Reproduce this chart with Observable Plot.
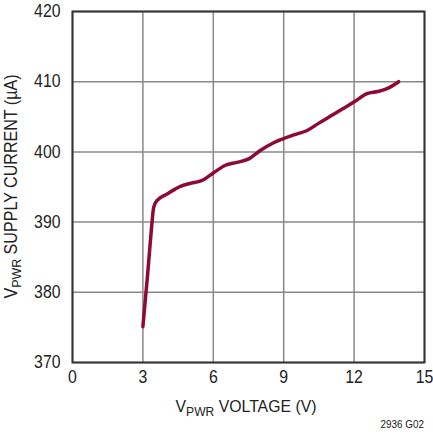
<!DOCTYPE html>
<html><head><meta charset="utf-8">
<script src="https://cdn.jsdelivr.net/npm/d3@7"></script>
<script src="https://cdn.jsdelivr.net/npm/@observablehq/plot@0.6"></script>
<style>body{margin:0;background:#fff}svg{display:block}</style>
</head><body><div id="chart"></div>
<script>
const voltage = [3.0, 3.2, 3.35, 3.46, 3.61, 4.03, 4.6, 5.0, 5.5, 6.0, 6.52, 7.0, 7.51, 8.0, 8.51, 9.0, 9.5, 10.0, 10.5, 11.0, 11.5, 11.99, 12.55, 13.0, 13.4, 13.9];
const current = [375.1, 382.5, 388.5, 392.1, 393.1, 394.0, 395.1, 395.5, 395.9, 397.0, 398.1, 398.5, 399.0, 400.2, 401.2, 401.9, 402.5, 403.05, 404.1, 405.1, 406.1, 407.1, 408.3, 408.6, 409.0, 410.0];
const xTicks = [0, 3, 6, 9, 12, 15];
const yTicks = [370, 380, 390, 400, 410, 420];
const data = voltage.map((v, i) => ({v, c: current[i]}));
const font = "'Liberation Sans', Arial, sans-serif";
const W = 433, H = 435, ml = 72, mr = 9, mt = 11, mb = 73;
const chart = Plot.plot({
  width: W, height: H,
  marginLeft: ml, marginRight: mr, marginTop: mt, marginBottom: mb,
  style: {fontFamily: font, fontSize: "18px", color: "#222", background: "#fff"},
  x: {domain: [0, 15]},
  y: {domain: [370, 420]},
  marks: [
    Plot.gridX(xTicks, {stroke: "#888", strokeOpacity: 1, strokeWidth: 1.5}),
    Plot.gridY(yTicks, {stroke: "#888", strokeOpacity: 1, strokeWidth: 1.5}),
    Plot.frame({stroke: "#333", strokeWidth: 2}),
    Plot.axisX(xTicks, {tickSize: 0, tickPadding: 8, label: null, fontSize: 18}),
    Plot.axisY(yTicks, {tickSize: 0, tickPadding: 12, label: null, fontSize: 18}),
    Plot.line(data, {x: "v", y: "c", stroke: "#8c0a34", strokeWidth: 3.5, curve: "monotone-x", strokeLinecap: "round"})
  ]
});
document.getElementById("chart").appendChild(chart);
const svg = d3.select(chart);
// condense tick labels (narrow typeface look)
svg.selectAll('g[aria-label$="tick label"] text').each(function() {
  const t = d3.select(this);
  t.attr("transform", (t.attr("transform") || "") + " scale(0.88,1)");
});
const cx = (ml + W - mr) / 2, cy = (mt + H - mb) / 2;
function sublabel(g, main, sub, rest, subSize) {
  g.append("tspan").text(main);
  g.append("tspan").attr("font-size", subSize).attr("dy", 4).text(sub);
  g.append("tspan").attr("dy", -4).text(rest);
}
const xl = svg.append("text").attr("transform", `translate(${cx - 2},412) scale(0.93,1)`).attr("text-anchor", "middle")
  .attr("font-family", font).attr("font-size", 17).attr("fill", "#222");
sublabel(xl, "V", "PWR", " VOLTAGE (V)", 13);
const yl = svg.append("text").attr("transform", `translate(17,${cy}) rotate(-90) scale(0.92,1)`).attr("text-anchor", "middle")
  .attr("font-family", font).attr("font-size", 17.5).attr("fill", "#222");
sublabel(yl, "V", "PWR", " SUPPLY CURRENT (µA)", 13.5);
svg.append("text").attr("transform", `translate(${W - mr},428) scale(0.9,1)`).attr("text-anchor", "end")
  .attr("font-family", font).attr("font-size", 11).attr("fill", "#222").text("2936 G02");
</script></body></html>
